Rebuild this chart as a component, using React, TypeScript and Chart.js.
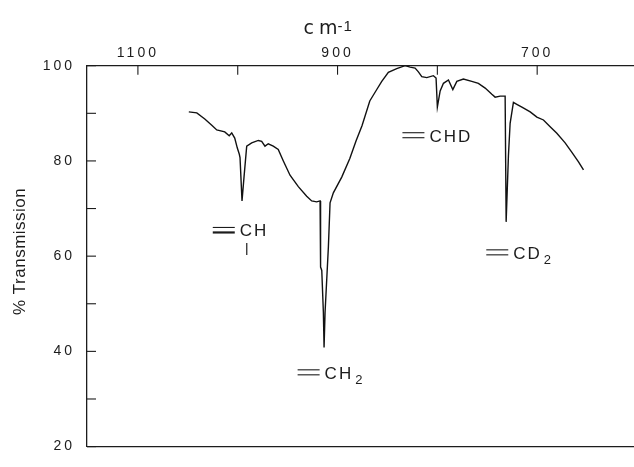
import React, { useEffect, useRef } from 'react';
import { Chart, registerables } from 'chart.js';

Chart.register(...registerables);

// Spectrum trace (wavenumber in cm^-1, % transmission)
const wavenumbers = [
  1049, 1041, 1033, 1026, 1021, 1013, 1008.5, 1006, 1003, 1000.4, 998.4, 997.7, 995.7, 993.7, 991, 986,
  979.4, 976, 972.7, 969.4, 964.4, 959.4, 954.3, 947.6, 939.3, 930.9, 925.9, 920.9, 917.5, 917, 915.8,
  914.2, 913.5, 912.5, 909.2, 907.5, 904.2, 895.8, 887.7, 881.5, 875.5, 867.7, 860.7, 855.7, 849.1,
  840.7, 832.3, 827.3, 822.3, 819, 815.6, 810.6, 804, 801.3, 800, 797.2, 793.9, 788.9, 784.5, 780.5,
  773.9, 765.5, 758.9, 752.1, 745.4, 742.1, 737.1, 732.1, 731.1, 728.8, 727.1, 723.8, 720.4, 715.3,
  707, 700.3, 693.7, 687, 680.3, 672, 665.2, 658.6, 653.6,
];
const transmission = [
  90.3, 90.1, 88.8, 87.5, 86.5, 86.1, 85.3, 85.9, 84.8, 82.7, 81.4, 80.7, 71.6, 76.6, 83.1, 83.8,
  84.3, 84.1, 83.1, 83.6, 83.1, 82.4, 80.0, 77.0, 74.6, 72.6, 71.6, 71.4, 71.6, 57.7, 57.0,
  48.2, 40.8, 48.2, 61.8, 71.2, 73.3, 76.6, 80.5, 84.2, 87.4, 92.6, 95.0, 96.7, 98.6,
  99.4, 100, 99.7, 99.5, 98.7, 97.7, 97.5, 97.9, 97.4, 91.3, 94.7, 96.3, 97.0, 95.0, 96.7,
  97.2, 96.7, 96.3, 95.3, 94.0, 93.4, 93.6, 93.6, 67.2, 81.1, 87.9, 92.3, 91.9, 91.3,
  90.3, 89.2, 88.6, 87.2, 85.8, 83.8, 81.8, 79.8, 78.1,
];

// Axes
const xMin = 603;
const xMax = 1151;
const xTickValues = [1100, 1000, 900, 800, 700];
const xTickLabels = ['1100', '', '900', '', '700'];
const yMin = 20;
const yMax = 100;
const yTickValues = [20, 30, 40, 50, 60, 70, 80, 90, 100];
const yTickLabels = ['20', '', '40', '', '60', '', '80', '', '100'];
const xTitle = 'cm';
const xTitleExponent = '-1';
const xTitleWavenumber = 934;
const yTitle = '% Transmission';
const yTitleTransmission = 61;

// Band annotations (anchored at wavenumber / transmission)
const bandNames = ['CH', 'CH', 'CHD', 'CD'];
const bandSubscripts = ['', '2', '', '2'];
const bandWavenumbers = [1025, 940, 835, 751];
const bandTransmissions = [65.5, 35.6, 85.4, 60.8];
const bandHasLowerBond = [true, false, false, false];

const FONT = '"Liberation Sans", Arial, sans-serif';
const TITLE_FONT = '"DejaVu Sans", sans-serif';
const INK = '#1c1c1c';

const framePlugin = {
  id: 'frame',
  beforeDraw(chart: any) {
    chart.ctx.letterSpacing = '3px';
  },
  afterDraw(chart: any) {
    const ctx = chart.ctx;
    const { left, right, top, bottom } = chart.chartArea;
    const xs = chart.scales.x;
    const ys = chart.scales.y;
    ctx.save();
    ctx.strokeStyle = INK;
    ctx.fillStyle = INK;
    ctx.lineWidth = 1.3;
    // bottom frame line
    ctx.beginPath();
    ctx.moveTo(left, bottom);
    ctx.lineTo(right, bottom);
    ctx.stroke();
    // inward tick marks
    ctx.lineWidth = 1.1;
    xs.ticks.forEach((t: any) => {
      const px = xs.getPixelForValue(t.value);
      ctx.beginPath();
      ctx.moveTo(px, top);
      ctx.lineTo(px, top + 9);
      ctx.stroke();
    });
    ys.ticks.forEach((t: any) => {
      const py = ys.getPixelForValue(t.value);
      ctx.beginPath();
      ctx.moveTo(left, py);
      ctx.lineTo(left + 9, py);
      ctx.stroke();
    });

    // x title: cm^-1
    ctx.textBaseline = 'alphabetic';
    ctx.textAlign = 'left';
    ctx.letterSpacing = '5px';
    ctx.font = `19px ${TITLE_FONT}`;
    const tx = xs.getPixelForValue(xTitleWavenumber);
    ctx.fillText(xTitle, tx, 34);
    const cmW = ctx.measureText(xTitle).width;
    ctx.letterSpacing = '1px';
    ctx.font = `15px ${FONT}`;
    ctx.fillText(xTitleExponent, tx + cmW - 5, 31);

    // y title
    ctx.save();
    ctx.letterSpacing = '0.5px';
    ctx.font = `17px ${FONT}`;
    ctx.translate(20, ys.getPixelForValue(yTitleTransmission));
    ctx.rotate(-Math.PI / 2);
    ctx.textAlign = 'center';
    ctx.textBaseline = 'middle';
    ctx.fillText(yTitle, 0, 0);
    ctx.restore();

    // band labels
    for (let i = 0; i < bandNames.length; i++) {
      const x0 = xs.getPixelForValue(bandWavenumbers[i]);
      const y0 = ys.getPixelForValue(bandTransmissions[i]);
      ctx.lineWidth = 1.1;
      ctx.beginPath();
      ctx.moveTo(x0, y0 - 2.5);
      ctx.lineTo(x0 + 22, y0 - 2.5);
      ctx.stroke();
      ctx.lineWidth = bandHasLowerBond[i] ? 2.2 : 1.1;
      ctx.beginPath();
      ctx.moveTo(x0, y0 + 2.5);
      ctx.lineTo(x0 + 22, y0 + 2.5);
      ctx.stroke();
      ctx.letterSpacing = '2px';
      ctx.font = `17px ${FONT}`;
      ctx.textAlign = 'left';
      ctx.textBaseline = 'alphabetic';
      const tx0 = x0 + 27;
      ctx.fillText(bandNames[i], tx0, y0 + 6.5);
      const w = ctx.measureText(bandNames[i]).width;
      if (bandSubscripts[i]) {
        ctx.font = `13px ${FONT}`;
        ctx.fillText(bandSubscripts[i], tx0 + w + 2, y0 + 12);
      }
      if (bandHasLowerBond[i]) {
        ctx.lineWidth = 1.2;
        ctx.beginPath();
        ctx.moveTo(tx0 + 7, y0 + 13);
        ctx.lineTo(tx0 + 7, y0 + 25);
        ctx.stroke();
      }
    }
    ctx.restore();
    ctx.letterSpacing = '0px';
  },
};

export default function App() {
  const canvasRef = useRef<HTMLCanvasElement | null>(null);

  useEffect(() => {
    if (!canvasRef.current) return;
    const points = wavenumbers.map((w, i) => ({ x: w, y: transmission[i] }));
    const chart = new Chart(canvasRef.current, {
      type: 'line',
      data: {
        datasets: [
          {
            data: points,
            borderColor: '#111',
            borderWidth: 1.4,
            pointRadius: 0,
            tension: 0,
            fill: false,
          },
        ],
      },
      options: {
        animation: false,
        responsive: false,
        events: [],
        layout: { padding: { top: 0, left: 0, right: 0, bottom: 8 } },
        plugins: { legend: { display: false }, tooltip: { enabled: false } },
        scales: {
          x: {
            type: 'linear',
            position: 'top',
            reverse: true,
            min: xMin,
            max: xMax,
            afterBuildTicks: (s: any) => {
              s.ticks = xTickValues.map((v) => ({ value: v }));
            },
            afterFit: (s: any) => {
              s.height = 65.7;
            },
            ticks: {
              autoSkip: false,
              maxRotation: 0,
              padding: 4,
              color: INK,
              font: { family: FONT, size: 14 },
              callback: (v: any) => {
                const idx = xTickValues.indexOf(Number(v));
                return idx >= 0 ? xTickLabels[idx] : '';
              },
            },
            grid: { display: false, drawTicks: false },
            border: { display: true, color: INK, width: 1.3 },
          },
          y: {
            type: 'linear',
            position: 'left',
            min: yMin,
            max: yMax,
            afterBuildTicks: (s: any) => {
              s.ticks = yTickValues.map((v) => ({ value: v }));
            },
            afterFit: (s: any) => {
              s.width = 87;
            },
            ticks: {
              autoSkip: false,
              padding: 12,
              color: INK,
              font: { family: FONT, size: 14 },
              callback: (v: any) => {
                const idx = yTickValues.indexOf(Number(v));
                return idx >= 0 ? yTickLabels[idx] : '';
              },
            },
            grid: { display: false, drawTicks: false },
            border: { display: true, color: INK, width: 1.3 },
          },
        },
      },
      plugins: [framePlugin],
    });
    return () => chart.destroy();
  }, []);

  return (
    <div style={{ position: 'absolute', left: 0, top: 0, width: 634, height: 467, background: '#fff' }}>
      <canvas ref={canvasRef} width={634} height={467} style={{ display: 'block' }} />
    </div>
  );
}
